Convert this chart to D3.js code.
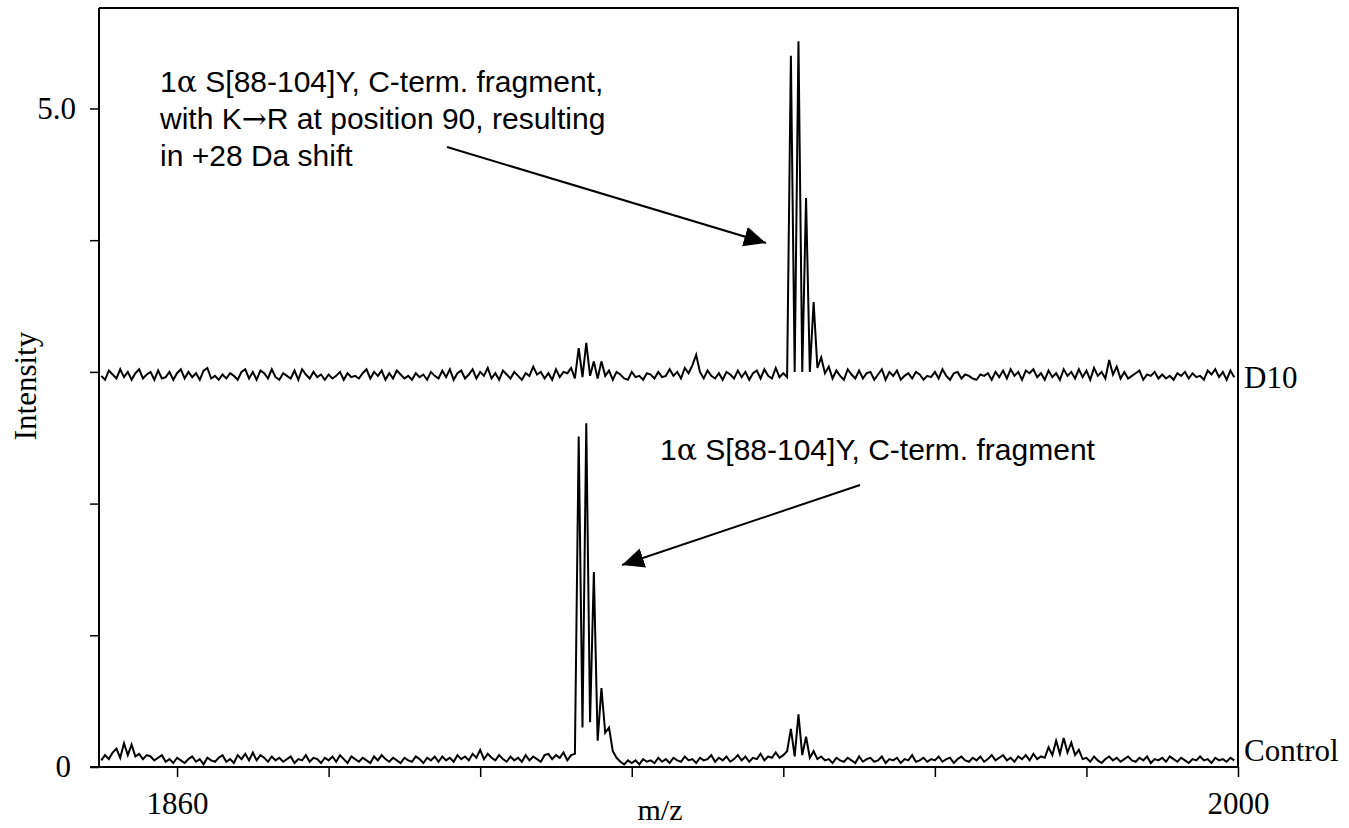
<!DOCTYPE html>
<html><head><meta charset="utf-8">
<script src="https://cdn.jsdelivr.net/npm/d3@7"></script>
<style>body{margin:0;background:#fff}</style>
</head><body>
<svg id="c" width="1349" height="828"></svg>
<script>
// ---- data ----
const mzStart = 1850, mzStep = 0.5;
const d10Offset = 2.97;
const d10 = [
0.00,-0.03,0.04,0.01,-0.02,0.05,-0.01,0.03,-0.03,0.02,
0.05,-0.02,0.01,0.03,-0.03,0.04,-0.02,-0.01,0.03,-0.03,
0.02,0.05,-0.02,0.03,-0.01,0.02,-0.03,0.04,0.06,-0.02,
0.00,-0.03,0.01,-0.02,0.02,0.00,-0.03,0.03,0.05,-0.02,
0.03,-0.03,0.04,0.02,-0.02,0.05,-0.01,-0.03,0.02,0.00,
-0.02,0.04,-0.03,0.05,0.01,-0.02,0.03,-0.01,0.01,-0.03,
0.01,-0.02,0.00,0.03,-0.03,0.02,-0.01,0.00,-0.02,0.02,
0.05,-0.02,0.03,0.00,0.04,-0.03,0.02,-0.02,0.04,0.01,
-0.02,0.00,-0.03,0.02,-0.01,0.01,-0.03,0.03,0.00,-0.02,
0.04,-0.01,0.05,-0.03,0.02,0.04,-0.02,0.01,0.05,-0.02,
0.03,0.00,0.06,-0.02,0.02,-0.03,0.04,0.01,-0.02,0.03,
0.00,-0.03,0.02,0.00,0.07,0.01,0.03,-0.02,0.02,-0.03,
0.05,-0.01,0.03,0.02,0.06,-0.02,0.21,-0.01,0.25,0.00,
0.11,-0.02,0.11,0.00,0.04,-0.03,0.03,0.01,-0.02,-0.03,
0.03,-0.01,0.00,-0.03,0.02,0.01,-0.02,0.03,-0.01,0.00,
0.05,0.00,0.03,-0.02,0.06,0.02,0.08,0.16,0.03,-0.02,
0.04,0.00,-0.02,0.02,-0.03,0.03,0.01,-0.02,0.04,-0.01,
0.03,-0.03,0.02,0.04,-0.02,0.05,0.00,-0.02,0.06,-0.01,
0.02,-0.01,2.43,0.03,2.54,0.03,1.35,0.03,0.56,0.06,
0.14,0.02,0.07,-0.02,0.04,0.00,-0.03,0.05,0.01,-0.02,
0.04,-0.02,0.02,0.03,-0.03,0.01,0.05,-0.03,0.03,0.00,
0.04,-0.03,0.00,0.02,-0.02,0.03,0.01,-0.03,0.00,-0.01,
0.03,-0.02,0.05,0.00,-0.03,0.02,0.03,-0.02,0.01,0.00,
-0.02,-0.03,0.01,0.00,0.02,-0.03,0.03,-0.01,0.04,-0.02,
0.05,0.00,0.03,-0.03,0.04,0.02,0.05,-0.01,0.02,-0.03,
0.04,-0.01,0.02,-0.03,0.05,0.00,0.03,-0.02,0.05,-0.01,
0.04,-0.03,0.06,0.00,0.03,-0.02,0.12,0.01,0.07,-0.02,
0.03,-0.02,0.00,0.02,0.04,-0.03,0.01,0.00,0.03,-0.02,
0.01,-0.02,0.00,-0.03,0.02,0.00,0.03,-0.02,0.02,-0.01,
0.00,-0.03,0.04,0.01,0.05,-0.01,0.03,-0.03,0.04,-0.01
];
const control = [
0.05,0.09,0.06,0.11,0.14,0.07,0.18,0.09,0.17,0.08,
0.10,0.06,0.09,0.08,0.05,0.07,0.09,0.04,0.06,0.03,
0.07,0.05,0.03,0.06,0.08,0.04,0.06,0.02,0.07,0.05,
0.04,0.07,0.09,0.04,0.06,0.03,0.09,0.06,0.10,0.05,
0.11,0.05,0.09,0.07,0.04,0.08,0.05,0.07,0.04,0.06,
0.08,0.03,0.06,0.05,0.09,0.04,0.07,0.06,0.03,0.07,
0.05,0.08,0.04,0.09,0.06,0.03,0.08,0.06,0.04,0.07,
0.05,0.03,0.08,0.05,0.09,0.06,0.04,0.07,0.05,0.03,
0.07,0.05,0.04,0.08,0.06,0.03,0.07,0.05,0.08,0.04,
0.08,0.05,0.07,0.04,0.09,0.06,0.08,0.05,0.10,0.07,
0.13,0.06,0.10,0.07,0.05,0.09,0.06,0.04,0.08,0.05,
0.07,0.04,0.09,0.05,0.08,0.06,0.04,0.09,0.10,0.06,
0.09,0.07,0.11,0.05,0.09,0.10,2.51,0.30,2.61,0.34,
1.48,0.20,0.60,0.26,0.30,0.12,0.07,0.04,0.02,0.05,
0.03,0.05,0.02,0.06,0.04,0.05,0.03,0.07,0.04,0.06,
0.03,0.07,0.05,0.04,0.08,0.05,0.06,0.03,0.07,0.05,
0.06,0.09,0.04,0.07,0.05,0.08,0.04,0.06,0.09,0.05,
0.08,0.04,0.07,0.06,0.10,0.05,0.08,0.07,0.11,0.07,
0.09,0.12,0.29,0.08,0.40,0.09,0.23,0.07,0.12,0.06,
0.08,0.05,0.06,0.03,0.07,0.05,0.04,0.07,0.05,0.03,
0.08,0.04,0.06,0.07,0.04,0.05,0.08,0.03,0.06,0.05,
0.07,0.03,0.06,0.05,0.09,0.04,0.05,0.07,0.04,0.06,
0.05,0.08,0.04,0.06,0.07,0.03,0.06,0.08,0.05,0.04,
0.07,0.05,0.08,0.04,0.06,0.09,0.05,0.07,0.09,0.05,
0.07,0.04,0.08,0.06,0.09,0.05,0.10,0.06,0.08,0.07,
0.15,0.09,0.20,0.10,0.22,0.11,0.185,0.09,0.13,0.06,
0.07,0.04,0.08,0.05,0.03,0.06,0.08,0.05,0.07,0.04,
0.06,0.08,0.05,0.04,0.07,0.05,0.08,0.03,0.06,0.05,
0.07,0.04,0.08,0.06,0.04,0.07,0.05,0.03,0.06,0.05,
0.08,0.05,0.06,0.03,0.07,0.05,0.06,0.04,0.07,0.05
];
const xTicks = [1860,1880,1900,1920,1940,1960,1980,2000];
const xTickLabels = {1860:"1860", 2000:"2000"};
const yTicks = [0,1,2,3,4,5];
const yTickLabels = {0:"0", 5:"5.0"};
const xTitle = "m/z", yTitle = "Intensity";
const seriesNames = ["D10","Control"];
const note1Lines = ["1\u03b1 S[88-104]Y, C-term. fragment,", "with K\u2192R at position 90, resulting", "in +28 Da shift"];
const note2Lines = ["1\u03b1 S[88-104]Y, C-term. fragment"];

// ---- chart ----
const svg = d3.select("#c");
const L = 99, R = 1238, T = 8, B = 767;
const x = d3.scaleLinear().domain([1849.7, 2000]).range([L, R]);
const y = d3.scaleLinear().domain([0, 5.763]).range([B, T]);
const serif = "'Liberation Serif','Times New Roman',serif";
const sans = "'Liberation Sans',Arial,sans-serif";
const symb = "'DejaVu Serif','Liberation Serif',serif";

// frame top/right
svg.append("path").attr("d", `M${L},${T}H${R}V${B}`).attr("fill","none").attr("stroke","#000").attr("stroke-width",2);

// spectra
const defs = svg.append("defs");
defs.append("clipPath").attr("id","clip").append("rect")
  .attr("x",L+1).attr("y",T).attr("width",R-L-2).attr("height",B-T);
const mk = off => d3.line().x((d,i)=>x(mzStart+i*mzStep)).y(d=>y(d+off));
const g = svg.append("g").attr("clip-path","url(#clip)");
g.append("path").datum(d10).attr("d", mk(d10Offset)).attr("fill","none").attr("stroke","#000").attr("stroke-width",2);
g.append("path").datum(control).attr("d", mk(0)).attr("fill","none").attr("stroke","#000").attr("stroke-width",2);

// axes
const xa = svg.append("g").attr("transform",`translate(0,${B})`)
  .call(d3.axisBottom(x).tickValues(xTicks).tickSize(10).tickPadding(14).tickFormat(d=>xTickLabels[d]||""));
xa.select(".domain").attr("d", `M90,0H${R}`).attr("stroke-width",2);
xa.selectAll(".tick line").attr("stroke-width",1.5);
xa.selectAll("text").attr("font-family",serif).attr("font-size",31).attr("fill","#000").attr("dy","0.75em");

const ya = svg.append("g").attr("transform",`translate(${L},0)`)
  .call(d3.axisLeft(y).tickValues(yTicks).tickSize(9).tickPadding(14).tickFormat(d=>yTickLabels[d]||""));
ya.select(".domain").attr("d", `M0,${T}V${B}`).attr("stroke-width",2);
ya.selectAll(".tick line").attr("stroke-width",1.5);
ya.selectAll("text").attr("font-family",serif).attr("font-size",31).attr("fill","#000");
ya.selectAll(".tick").filter(d=>d===0).select("text").attr("x",-28);

// titles
svg.append("text").attr("x",660).attr("y",820).attr("text-anchor","middle")
  .attr("font-family",serif).attr("font-size",30).text(xTitle);
svg.append("text").attr("transform","translate(36,386) rotate(-90)").attr("text-anchor","middle")
  .attr("font-family",serif).attr("font-size",31).text(yTitle);

// series labels
svg.append("text").attr("x",1244).attr("y",y(d10Offset)+12).attr("font-family",serif).attr("font-size",31).text(seriesNames[0]);
svg.append("text").attr("x",1244).attr("y",y(0.06)+2).attr("font-family",serif).attr("font-size",31).text(seriesNames[1]);

// annotations (Greek letter and arrow drawn in a symbol-like face)
function richLine(textSel, str, xPos, yPos) {
  const parts = str.split(/([\u03b1\u2192])/).filter(s => s.length);
  parts.forEach((p, k) => {
    const ts = textSel.append("tspan").text(p);
    if (k === 0) ts.attr("x", xPos).attr("y", yPos);
    if (p === "\u03b1" || p === "\u2192") ts.attr("font-family", symb);
  });
}
const n1 = svg.append("text").attr("font-family",sans).attr("font-size",30).attr("fill","#000");
note1Lines.forEach((t,i)=>richLine(n1, t, 160, 92+i*37));
const n2 = svg.append("text").attr("font-family",sans).attr("font-size",30).attr("fill","#000");
richLine(n2, note2Lines[0], 660, 460);

// arrows
defs.append("marker").attr("id","ah").attr("markerUnits","userSpaceOnUse")
  .attr("markerWidth",24).attr("markerHeight",22).attr("refX",22).attr("refY",10).attr("orient","auto")
  .append("path").attr("d","M0,0L22,10L0,20Z").attr("fill","#000");
const arrow = (x1,y1,x2,y2) => svg.append("line").attr("x1",x1).attr("y1",y1).attr("x2",x2).attr("y2",y2)
  .attr("stroke","#000").attr("stroke-width",2).attr("marker-end","url(#ah)");
arrow(447,147,766,243);
arrow(860,485,622,565);
</script>
</body></html>
